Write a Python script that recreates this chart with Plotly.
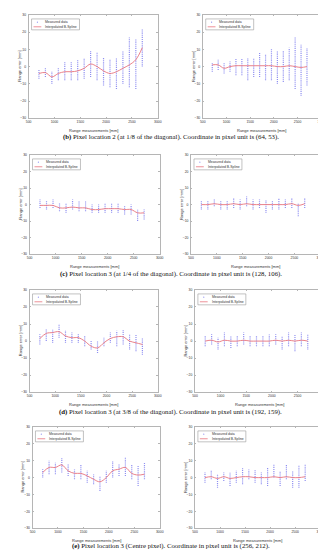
import plotly.graph_objects as go

# ---------------- data ----------------
range_mm = [700, 825, 950, 1075, 1200, 1325, 1450, 1575, 1700, 1825, 1950, 2075, 2200, 2325, 2450, 2575, 2700]

# (b) left / right
b_left_lo = [-7, -6, -10, -8, -8, -8, -8, -7, -6, -8, -11, -12, -13, -10, -12, -13, 0]
b_left_hi = [-2, -1, -3, -1, 3, 3, 4, 5, 9, 8, 5, 4, 5, 9, 17, 16, 22]
b_left_sp = [-4, -3.5, -6, -4, -3, -3, -2.5, -1, 1.5, 0, -2.5, -4, -3, -1, 1, 4, 11]
b_right_lo = [-3, -2, -4, -3, -5, -5, -8, -6, -6, -8, -8, -10, -9, -8, -13, -17, -11]
b_right_hi = [2, 4, 2, 3, 5, 5, 5, 5, 8, 7, 10, 9, 9, 11, 17, 13, 11]
b_right_sp = [1, 1, -1, 0, 0.5, 0.5, 0.5, 0.5, 0.5, 0.5, 0.5, 0, 0, 0.5, 0, -0.5, 0]

# (c) left / right
c_left_lo = [-2, -3, -2, -4, -5, -3, -4, -4, -5, -5, -5, -5, -5, -6, -6, -10, -9]
c_left_hi = [3, 2, 3, 1, 1, 3, 2, 2, 0, 0, 1, 1, 1, -1, 0, -3, -3]
c_left_sp = [-0.5, -0.5, -0.5, -2, -2, -1.5, -2, -2, -3, -3, -2.5, -2.5, -2.5, -3, -3, -5, -5]
c_right_lo = [-3, -3, -1, -3, -3, -2, -3, -1, -3, -2, -5, -3, -3, -2, -2, -7, -2]
c_right_hi = [2, 2, 3, 2, 2, 4, 3, 5, 3, 3, 3, 2, 4, 3, 4, 1, 4]
c_right_sp = [0, 0, 0.5, 0, 0, 0.5, 0, 0.5, 0, 0, 0, 0, 0, 0, 0.5, -0.5, 0.5]

# (d) left / right
d_left_lo = [-2, 0, -1, 2, -1, -1, -1, -3, -5, -7, -3, -1, -3, -2, -5, -6, -8]
d_left_hi = [4, 7, 7, 10, 6, 5, 4, 3, 0, 0, 2, 5, 6, 7, 4, 4, 2]
d_left_sp = [1.5, 4.5, 5, 5.5, 3, 2, 2, 0, -3, -4, -1, 1.5, 2.5, 2.5, 0, -1, -2]
d_right_lo = [-3, -2, -5, -3, -4, -3, -2, -3, -3, -3, -3, -2, -5, -3, -6, -3, -5]
d_right_hi = [3, 4, 2, 5, 3, 3, 5, 3, 3, 3, 4, 4, 3, 5, 4, 5, 4]
d_right_sp = [0, 0.5, -0.5, 0.5, 0, 0, 0.5, 0, 0, 0, 0, 0.5, 0, 0.5, 0, 0.5, 0]

# (e) left / right
e_left_lo = [0, 2, 2, 3, 1, -1, -1, -3, -4, -8, -3, 0, 1, 1, -1, -5, -1]
e_left_hi = [5, 10, 9, 12, 8, 5, 8, 4, 2, 1, 4, 10, 8, 12, 8, 7, 9]
e_left_sp = [3, 6, 6, 7.5, 4, 2.5, 2.5, 1, -1, -2.5, 0, 4, 5, 6, 2.5, 1.5, 2]
e_right_lo = [-3, -1, -6, -2, -5, -3, -4, -1, -3, -4, -5, 0, -5, -1, -6, -6, -2]
e_right_hi = [3, 4, 2, 3, 3, 4, 6, 5, 5, 3, 6, 8, 4, 8, 4, 7, 8]
e_right_sp = [0, 0.5, -0.5, 0.5, -0.5, 0, 0.5, 0.5, 0, 0, 0, 0.5, 0, 0.5, 0, 0, 0.5]

x_ticks = [500, 1000, 1500, 2000, 2500, 3000]
y_ticks = [-30, -20, -10, 0, 10, 20, 30]
legend_labels = ["Measured data", "Interpolated B-Spline"]
x_title = "Range measurements [mm]"
y_title = "Range error [mm]"
captions = [
    "<b>(b)</b> Pixel location 2 (at 1/8 of the diagonal). Coordinate in pixel unit is (64, 53).",
    "<b>(c)</b> Pixel location 3 (at 1/4 of the diagonal). Coordinate in pixel unit is (128, 106).",
    "<b>(d)</b> Pixel location 3 (at 3/8 of the diagonal). Coordinate in pixel unit is (192, 159).",
    "<b>(e)</b> Pixel location 3 (Centre pixel). Coordinate in pixel unit is (256, 212).",
]

panels = [
    (b_left_lo, b_left_hi, b_left_sp), (b_right_lo, b_right_hi, b_right_sp),
    (c_left_lo, c_left_hi, c_left_sp), (c_right_lo, c_right_hi, c_right_sp),
    (d_left_lo, d_left_hi, d_left_sp), (d_right_lo, d_right_hi, d_right_sp),
    (e_left_lo, e_left_hi, e_left_sp), (e_right_lo, e_right_hi, e_right_sp),
]

# ---------------- layout geometry (pixels) ----------------
W, H = 326, 550
rows_tb = [(5, 109), (146, 246), (282, 385), (420, 522)]
left_lr = [(18, 150), (19, 152), (19, 150), (22, 152)]
right_lr = [(196, 317), (184, 316), (188, 319), (188, 316)]
caption_y = [128, 266, 405, 540]

BLUE = "rgba(95,95,235,0.7)"
RED = "rgb(232,115,125)"
AX = "#b5b5b5"
TXT = "#333"
SANS = "Liberation Sans"

fig = go.Figure()
layout = dict(
    width=W, height=H, margin=dict(l=0, r=0, t=0, b=0),
    paper_bgcolor="white", plot_bgcolor="white", showlegend=False,
    font=dict(family=SANS, size=4, color=TXT),
)
annotations = []
shapes = []

for k, (lo, hi, sp) in enumerate(panels):
    r, c = divmod(k, 2)
    t, b = rows_tb[r]
    l, rr = (left_lr if c == 0 else right_lr)[r]
    n = k + 1
    xa = "x" if n == 1 else f"x{n}"
    ya = "y" if n == 1 else f"y{n}"
    xs, ys = [], []
    for xv, a, bb in zip(range_mm, lo, hi):
        xs += [xv, xv, None]
        ys += [a, bb, None]
    fig.add_trace(go.Scatter(x=xs, y=ys, mode="lines", xaxis=xa, yaxis=ya,
                             line=dict(color=BLUE, width=1.2, dash="1px,0.9px"),
                             hoverinfo="skip"))
    fig.add_trace(go.Scatter(x=range_mm, y=sp, mode="lines", xaxis=xa, yaxis=ya,
                             line=dict(color=RED, width=0.9, shape="spline", smoothing=1.0),
                             hoverinfo="skip"))
    axcommon = dict(showgrid=False, zeroline=False, showline=True, mirror="ticks",
                    linecolor=AX, linewidth=0.8, ticks="inside", ticklen=1.5,
                    tickcolor=AX, tickfont=dict(size=3.4, color=TXT, family=SANS))
    layout["xaxis" if n == 1 else f"xaxis{n}"] = dict(
        axcommon, domain=[l / W, rr / W], range=[500, 3000], tickvals=x_ticks,
        anchor=ya, ticklabelstandoff=0)
    layout["yaxis" if n == 1 else f"yaxis{n}"] = dict(
        axcommon, domain=[1 - b / H, 1 - t / H], range=[-30, 30], tickvals=y_ticks,
        anchor=xa, ticklabelstandoff=1)
    xd = f"{xa} domain"
    yd = f"{ya} domain"
    annotations.append(dict(text=x_title, xref=xd, yref=yd, x=0.5, y=0, yshift=-7.5,
                            yanchor="top", showarrow=False,
                            font=dict(size=4.0, color=TXT, family=SANS)))
    annotations.append(dict(text=y_title, xref=xd, yref=yd, x=0, y=0.5, xshift=-14,
                            textangle=-90, showarrow=False,
                            font=dict(size=4.0, color=TXT, family=SANS)))
    # legend box
    pw, ph = rr - l, b - t
    bx0, bx1 = 3 / pw, 52 / pw
    by1, by0 = 1 - 4 / ph, 1 - 15 / ph
    shapes.append(dict(type="rect", xref=xd, yref=yd, x0=bx0, x1=bx1, y0=by0, y1=by1,
                       line=dict(color="#999", width=0.6), fillcolor="white", layer="above"))
    yy1 = by1 - (by1 - by0) * 0.3
    yy2 = by1 - (by1 - by0) * 0.72
    shapes.append(dict(type="line", xref=xd, yref=yd, x0=5 / pw, x1=13 / pw, y0=yy2, y1=yy2,
                       line=dict(color=RED, width=0.8), layer="above"))
    shapes.append(dict(type="circle", xref=xd, yref=yd, x0=8.4 / pw, x1=9.6 / pw,
                       y0=yy1 - 0.6 / ph, y1=yy1 + 0.6 / ph,
                       line=dict(width=0), fillcolor=BLUE, layer="above"))
    annotations.append(dict(text=legend_labels[0], xref=xd, yref=yd, x=15 / pw, y=yy1,
                            xanchor="left", yanchor="middle", showarrow=False,
                            font=dict(size=3.4, color=TXT, family=SANS)))
    annotations.append(dict(text=legend_labels[1], xref=xd, yref=yd, x=15 / pw, y=yy2,
                            xanchor="left", yanchor="middle", showarrow=False,
                            font=dict(size=3.4, color=TXT, family=SANS)))

for cap, cy in zip(captions, caption_y):
    annotations.append(dict(text=cap, xref="paper", yref="paper", x=0.5, y=1 - cy / H,
                            showarrow=False, yanchor="middle",
                            font=dict(size=6.8, color="#111", family="Liberation Serif")))

layout["annotations"] = annotations
layout["shapes"] = shapes
fig.update_layout(**layout)
fig.write_html("out.html")
